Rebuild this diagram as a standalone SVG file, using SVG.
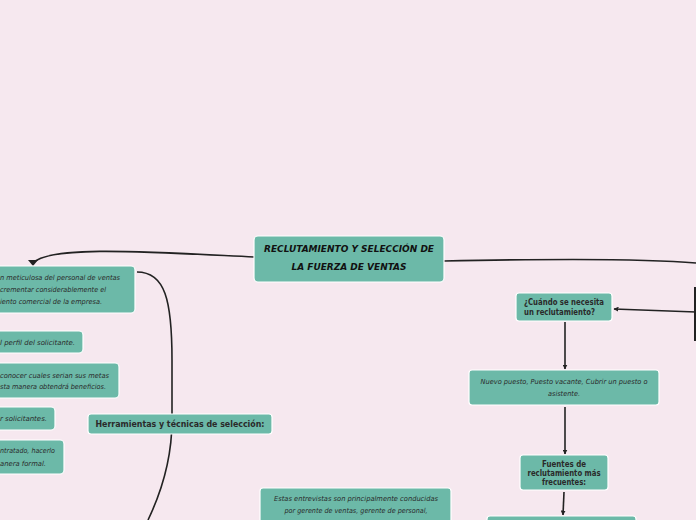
<svg xmlns="http://www.w3.org/2000/svg" width="696" height="520" viewBox="0 0 696 520">
<defs>
<style>
.n{fill:#6cb9a8;stroke:#ffffff;stroke-width:1.2}
.c{fill:none;stroke:#222222;stroke-width:1.6}
.h{font-family:"DejaVu Sans",sans-serif;font-style:italic;font-size:7px;fill:#2a2a2a}
.b{font-family:"DejaVu Sans",sans-serif;font-weight:bold;font-size:8px;fill:#2a2a2a}
.t{font-family:"DejaVu Sans",sans-serif;font-weight:bold;font-style:italic;font-size:9.5px;fill:#111111}
</style>
<marker id="ar" viewBox="0 0 10 10" refX="9" refY="5" markerWidth="5" markerHeight="5" orient="auto" markerUnits="userSpaceOnUse">
<path d="M0,0 L10,5 L0,10 z" fill="#222222"/>
</marker>
</defs>
<rect x="0" y="0" width="696" height="520" fill="#f6e8ef"/>
<g id="connectors">
<path class="c" d="M254,257 C150,252 50,245 33,263"/>
<path d="M28,260 L38,260 L33,266 z" fill="#222222"/>
<path class="c" d="M137,272 C165,272 172,300 172,360 L172,420 C172,460 160,495 148,520"/>
<path class="c" d="M444,261 C540,259 640,258 696,263"/>
<path class="c" d="M696,312 L614,309" marker-end="url(#ar)"/>
<path class="c" d="M565,322 L565,369" marker-end="url(#ar)"/>
<path class="c" d="M565,407 L565,454" marker-end="url(#ar)"/>
<path class="c" d="M564,492 L563,515" marker-end="url(#ar)"/>
<path d="M695,287 L695,341" stroke="#222222" stroke-width="2" fill="none"/>
</g>
<g id="central">
<rect class="n" x="254" y="236" width="190" height="46" rx="4"/>
<text class="t" x="349" y="252" text-anchor="middle" textLength="170" lengthAdjust="spacingAndGlyphs">RECLUTAMIENTO Y SELECCIÓN DE</text>
<text class="t" x="349" y="270" text-anchor="middle" textLength="115" lengthAdjust="spacingAndGlyphs">LA FUERZA DE VENTAS</text>
</g>
<g id="left1">
<rect class="n" x="-20" y="266" width="155" height="47" rx="4"/>
<text class="h" x="120" y="280" text-anchor="end" textLength="120" lengthAdjust="spacingAndGlyphs">n meticulosa del personal de ventas</text>
<text class="h" x="106" y="292" text-anchor="end" textLength="106" lengthAdjust="spacingAndGlyphs">crementar considerablemente el</text>
<text class="h" x="102" y="304" text-anchor="end" textLength="102" lengthAdjust="spacingAndGlyphs">iento comercial de la empresa.</text>
</g>
<g id="left2">
<rect class="n" x="-20" y="331" width="103" height="22" rx="4"/>
<text class="h" x="75" y="345" text-anchor="end" textLength="75" lengthAdjust="spacingAndGlyphs">l perfil del solicitante.</text>
</g>
<g id="left3">
<rect class="n" x="-20" y="363" width="139" height="35" rx="4"/>
<text class="h" x="109" y="378" text-anchor="end" textLength="109" lengthAdjust="spacingAndGlyphs">conocer cuales serian sus metas</text>
<text class="h" x="106" y="389" text-anchor="end" textLength="106" lengthAdjust="spacingAndGlyphs">sta manera obtendrá beneficios.</text>
</g>
<g id="left4">
<rect class="n" x="-20" y="407" width="75" height="23" rx="4"/>
<text class="h" x="47" y="421" text-anchor="end" textLength="47" lengthAdjust="spacingAndGlyphs">r solicitantes.</text>
</g>
<g id="left5">
<rect class="n" x="-20" y="440" width="84" height="34" rx="4"/>
<text class="h" x="55" y="453" text-anchor="end" textLength="55" lengthAdjust="spacingAndGlyphs">ntratado, hacerlo</text>
<text class="h" x="46" y="466" text-anchor="end" textLength="46" lengthAdjust="spacingAndGlyphs">anera formal.</text>
</g>
<g id="herramientas">
<rect class="n" x="88" y="414" width="184" height="20" rx="3"/>
<text class="b" x="180" y="427" text-anchor="middle" style="font-size:8.5px" textLength="169" lengthAdjust="spacingAndGlyphs">Herramientas y técnicas de selección:</text>
</g>
<g id="cuando">
<rect class="n" x="516" y="293" width="96" height="28" rx="3"/>
<text class="b" x="524" y="305" textLength="80" lengthAdjust="spacingAndGlyphs">¿Cuándo se necesita</text>
<text class="b" x="524" y="315" textLength="71" lengthAdjust="spacingAndGlyphs">un reclutamiento?</text>
</g>
<g id="nuevo">
<rect class="n" x="469" y="370" width="190" height="35" rx="3"/>
<text class="h" x="564" y="384" text-anchor="middle" textLength="167" lengthAdjust="spacingAndGlyphs">Nuevo puesto, Puesto vacante, Cubrir un puesto o</text>
<text class="h" x="564" y="396" text-anchor="middle" textLength="32" lengthAdjust="spacingAndGlyphs">asistente.</text>
</g>
<g id="fuentes">
<rect class="n" x="520" y="455" width="88" height="35" rx="3"/>
<text class="b" x="564" y="467" text-anchor="middle" textLength="44" lengthAdjust="spacingAndGlyphs">Fuentes de</text>
<text class="b" x="564" y="476" text-anchor="middle" textLength="73" lengthAdjust="spacingAndGlyphs">reclutamiento más</text>
<text class="b" x="564" y="485" text-anchor="middle" textLength="44" lengthAdjust="spacingAndGlyphs">frecuentes:</text>
</g>
<g id="bottom">
<rect class="n" x="487" y="516" width="149" height="20" rx="3"/>
</g>
<g id="estas">
<rect class="n" x="260" y="488" width="191" height="50" rx="3"/>
<text class="h" x="356" y="501" text-anchor="middle" textLength="164" lengthAdjust="spacingAndGlyphs">Estas entrevistas son principalmente conducidas</text>
<text class="h" x="356" y="513" text-anchor="middle" textLength="143" lengthAdjust="spacingAndGlyphs">por gerente de ventas, gerente de personal,</text>
</g>
</svg>
